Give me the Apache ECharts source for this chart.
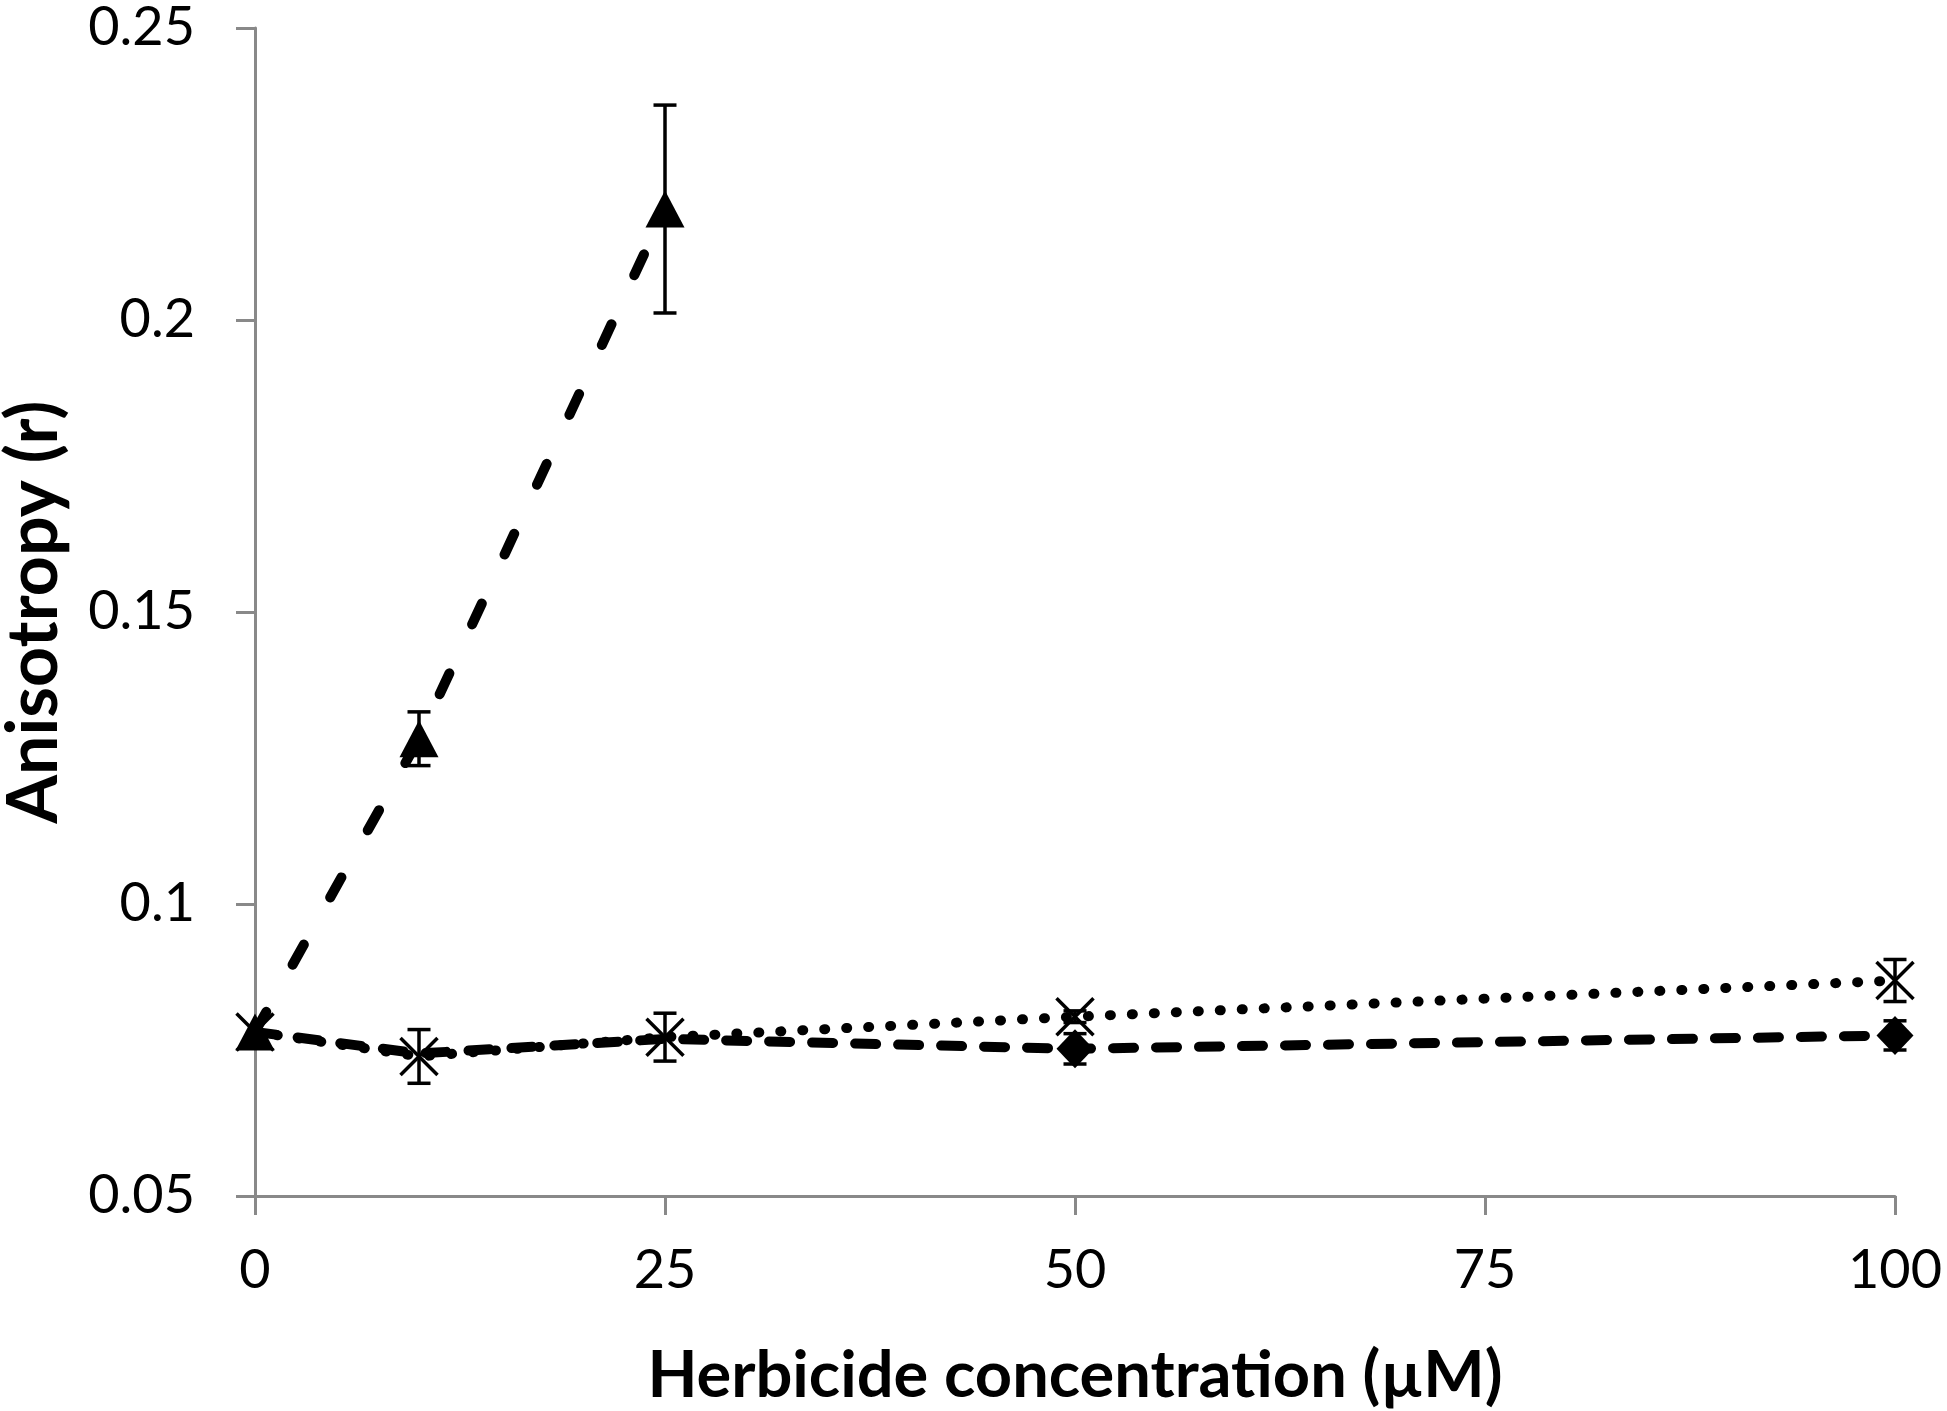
<!DOCTYPE html>
<html lang="en">
<head>
<meta charset="utf-8" />
<title>Anisotropy vs herbicide concentration</title>
<script src="https://cdn.jsdelivr.net/npm/echarts@6.0.0/dist/echarts.min.js"></script>
<style>
    html, body { margin: 0; padding: 0; background: #fff; }
    #main { width: 1947px; height: 1411px; }
</style>
</head>
<body>
<div id="main"></div>
<script>
    // axis ticks
    var xTicks = [0, 25, 50, 75, 100];
    var yTicks = [0.05, 0.1, 0.15, 0.2, 0.25];

    // triangle series (long dash)
    var triConc = [0, 10, 25];
    var triVal = [0.0781, 0.1283, 0.2190];
    var triErr = [0, 0.0046, 0.0178];

    // cross series (dotted)
    var crossConc = [0, 10, 25, 50, 100];
    var crossVal = [0.0781, 0.0739, 0.0772, 0.0807, 0.0869];
    var crossErr = [0, 0.0046, 0.0041, 0.0010, 0.0036];

    // diamond series (dashed), markers only where visible
    var diaConc = [0, 10, 25, 50, 100];
    var diaVal = [0.0781, 0.0744, 0.0769, 0.0752, 0.0775];
    var diaErr = [0, 0, 0, 0.0026, 0.0025];
    var diaMark = [false, false, false, true, true];

    function pairs(xs, ys) {
        return xs.map(function (x, i) { return [x, ys[i]]; });
    }

    function errBars(xs, ys, es) {
        var d = [];
        for (var i = 0; i < xs.length; i++) {
            if (es[i] > 0) d.push([xs[i], ys[i] - es[i], ys[i] + es[i]]);
        }
        return {
            type: 'custom',
            data: d,
            encode: { x: 0, y: [1, 2] },
            z: 6,
            silent: true,
            renderItem: function (params, api) {
                var lo = api.coord([api.value(0), api.value(1)]);
                var hi = api.coord([api.value(0), api.value(2)]);
                var hw = 11.5;
                var st = { stroke: '#000', lineWidth: 3.5 };
                return {
                    type: 'group',
                    children: [
                        { type: 'line', shape: { x1: lo[0], y1: lo[1], x2: hi[0], y2: hi[1] }, style: st },
                        { type: 'line', shape: { x1: lo[0] - hw, y1: lo[1], x2: lo[0] + hw, y2: lo[1] }, style: st },
                        { type: 'line', shape: { x1: hi[0] - hw, y1: hi[1], x2: hi[0] + hw, y2: hi[1] }, style: st }
                    ]
                };
            }
        };
    }

    var axisGray = '#898989';
    var dashed = { color: '#000', width: 10, type: [21, 22], cap: 'round' };
    var longDash = { color: '#000', width: 10, type: [23, 54], cap: 'round' };
    var dotted = { color: '#000', width: 10, type: [1, 21], cap: 'round' };

    var myChart = echarts.init(document.getElementById('main'));

    var option = {
        animation: false,
        backgroundColor: '#fff',
        grid: { left: 255, right: 52, top: 28, bottom: 215, outerBoundsMode: 'none' },
        xAxis: {
            type: 'value',
            min: xTicks[0],
            max: xTicks[xTicks.length - 1],
            interval: xTicks[1] - xTicks[0],
            name: 'Herbicide concentration (µM)',
            nameLocation: 'middle',
            nameGap: 148,
            nameMoveOverlap: false,
            nameTextStyle: { fontFamily: 'Lato', fontWeight: 'bold', fontSize: 65, color: '#000' },
            axisLine: { onZero: false, lineStyle: { color: axisGray, width: 3 } },
            axisTick: { show: true, length: 19, lineStyle: { color: axisGray, width: 3 } },
            splitLine: { show: false },
            axisLabel: { fontFamily: 'Lato', fontSize: 54, color: '#000', margin: 48 }
        },
        yAxis: {
            type: 'value',
            min: yTicks[0],
            max: yTicks[yTicks.length - 1],
            interval: 0.05,
            name: 'Anisotropy (r)',
            nameLocation: 'middle',
            nameGap: 186,
            nameMoveOverlap: false,
            nameTextStyle: { fontFamily: 'Lato', fontWeight: 'bold', fontSize: 70, color: '#000' },
            axisLine: { show: true, onZero: false, lineStyle: { color: axisGray, width: 3 } },
            axisTick: { show: true, length: 19, lineStyle: { color: axisGray, width: 3 } },
            splitLine: { show: false },
            axisLabel: {
                fontFamily: 'Lato', fontSize: 54, color: '#000', margin: 60,
                formatter: function (v) { return String(+v.toFixed(2)); }
            }
        },
        series: [
            {
                name: 'diamond',
                type: 'line',
                z: 3,
                data: diaConc.map(function (x, i) {
                    return { value: [x, diaVal[i]], symbol: diaMark[i] ? 'diamond' : 'none' };
                }),
                symbolSize: [37, 39],
                itemStyle: { color: '#000' },
                lineStyle: dashed
            },
            {
                name: 'cross',
                type: 'line',
                z: 4,
                data: pairs(crossConc, crossVal),
                symbol: 'path://M0,0L10,10M10,0L0,10',
                symbolSize: 37,
                itemStyle: { color: 'rgba(0,0,0,0)', borderColor: '#000', borderWidth: 3.5 },
                lineStyle: dotted
            },
            {
                name: 'triangle',
                type: 'line',
                z: 5,
                data: pairs(triConc, triVal),
                symbol: 'triangle',
                symbolSize: [39, 37],
                itemStyle: { color: '#000' },
                lineStyle: longDash
            },
            errBars(diaConc, diaVal, diaErr),
            errBars(crossConc, crossVal, crossErr),
            errBars(triConc, triVal, triErr)
        ]
    };

    myChart.setOption(option);
</script>
</body>
</html>
